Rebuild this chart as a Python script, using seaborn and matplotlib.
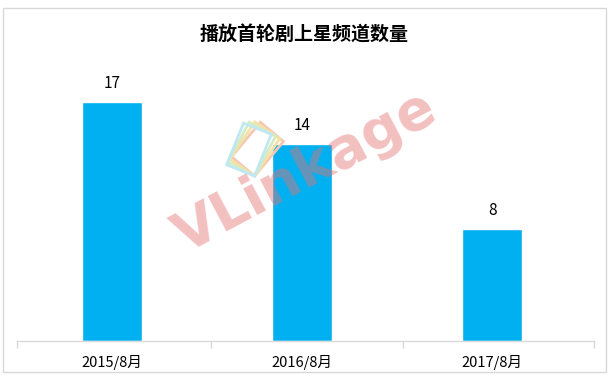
import matplotlib
matplotlib.use("Agg")
import matplotlib.pyplot as plt
import matplotlib.patches as mpatches
import seaborn as sns
import pandas as pd
import numpy as np

categories = ["2015/8月", "2016/8月", "2017/8月"]
values = [17, 14, 8]
title = "播放首轮剧上星频道数量"

sns.set_theme(style="white")
plt.rcParams['font.family'] = ['Noto Sans CJK SC', 'DejaVu Sans']

df = pd.DataFrame({"cat": categories, "val": values})

W, H = 609, 380
fig = plt.figure(figsize=(W/100, H/100), dpi=100)
cat_w = 190.0
left_px = 112.3 - cat_w/2
ax = fig.add_axes([left_px/W, 39/H, 3.034*cat_w/W, 281/H])

sns.barplot(data=df, x="cat", y="val", color="#00B0F0", saturation=1,
            width=0.316, ax=ax, zorder=2)

ax.set_xlim(-0.5, 2.534)
ax.set_ylim(0, 20)
ax.set_xlabel("")
ax.set_ylabel("")
ax.set_yticks([])
for s in ["top", "right", "left"]:
    ax.spines[s].set_visible(False)
ax.spines["bottom"].set_color("#D9D9D9")
ax.spines["bottom"].set_linewidth(1)
ax.tick_params(axis="x", which="major", length=0, pad=10, labelsize=10.5, colors="black")
ax.set_xticks([-0.5, 0.517, 1.529, 2.534], minor=True)
ax.tick_params(axis="x", which="minor", length=5, color="#D9D9D9", width=1, bottom=True)

for i, v in enumerate(values):
    ax.text(i, v + 0.7, str(v), ha="center", va="bottom", fontsize=11, color="black")

fig.text(0.5, 1 - 35/H, title, ha="center", va="center", fontsize=13.7,
         fontweight="bold", color="black")

# overlay in pixel coordinates for decorations
ov = fig.add_axes([0, 0, 1, 1], zorder=5)
ov.set_xlim(0, W)
ov.set_ylim(H, 0)
ov.axis("off")
ov.patch.set_alpha(0)

# logo: fanned frames pivoting on bottom-right corner
px, py, fw, fh = 254.5, 176.0, 30.0, 45.0
logo = [(40, "#F5C7B2"), (34, "#F4E2A8"), (28, "#D6ECC0"), (22, "#BFE8F2")]
for ang, col in logo:
    a = np.deg2rad(ang)
    pts = np.array([[0, 0], [-fw, 0], [-fw, -fh], [0, -fh]])
    rot = np.array([[np.cos(a), -np.sin(a)], [np.sin(a), np.cos(a)]])
    p = pts @ rot.T + [px, py]
    ov.add_patch(mpatches.Polygon(p, closed=True, fill=False, edgecolor=col,
                                  linewidth=2.0, joinstyle="miter"))

ov.text(305, 172, "VLinkage", ha="center", va="center", fontsize=40,
        fontweight="bold", color="#E57373", alpha=0.45, rotation=28,
        family=["DejaVu Sans"])

border = mpatches.Rectangle((3/W, 8/H), 603/W, 364/H, fill=False,
                            edgecolor="#D9D9D9", linewidth=1, transform=fig.transFigure)
fig.patches.append(border)

fig.savefig("out.png", dpi=100)
